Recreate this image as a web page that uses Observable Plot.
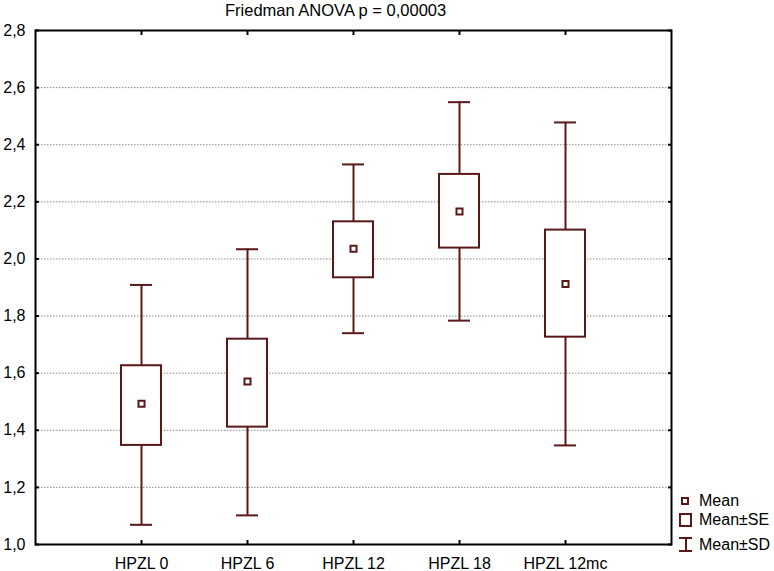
<!DOCTYPE html>
<html><head><meta charset="utf-8">
<script src="https://cdn.jsdelivr.net/npm/d3@7"></script>
<script src="https://cdn.jsdelivr.net/npm/@observablehq/plot@0.6"></script>
<style>
body{margin:0;background:#fff;font-family:"Liberation Sans",Arial,sans-serif;}
#wrap{position:relative;width:774px;height:571px;overflow:hidden;}
#title{position:absolute;left:225px;top:0px;font-size:16.5px;line-height:20px;color:#000;white-space:nowrap;}
.lg{position:absolute;font-size:16px;line-height:18px;color:#000;white-space:nowrap;}
.sym{position:absolute;box-sizing:border-box;}
</style></head>
<body><div id="wrap"><div id="title"></div></div>
<script>
const titleText = "Friedman ANOVA p = 0,00003";
const categories = ["HPZL 0", "HPZL 6", "HPZL 12", "HPZL 18", "HPZL 12mc"];
const means  = [1.493, 1.571, 2.036, 2.166, 1.912];
const seLow  = [1.347, 1.411, 1.934, 2.038, 1.726];
const seHigh = [1.626, 1.719, 2.130, 2.296, 2.101];
const sdLow  = [1.069, 1.102, 1.740, 1.784, 1.347];
const sdHigh = [1.909, 2.034, 2.331, 2.549, 2.478];
const yTicks = [1.0, 1.2, 1.4, 1.6, 1.8, 2.0, 2.2, 2.4, 2.6, 2.8];
const legendLabels = ["Mean", "Mean±SE", "Mean±SD"];

const color = "#5b1818";
const data = categories.map((c, i) => ({cat: c, mean: means[i], seLow: seLow[i], seHigh: seHigh[i], sdLow: sdLow[i], sdHigh: sdHigh[i]}));
const fmt = d => d3.format(".1f")(d).replace(".", ",");
const blank = () => "";

const chart = Plot.plot({
  width: 774, height: 571,
  marginTop: 30, marginBottom: 27, marginLeft: 35, marginRight: 103,
  style: {fontFamily: "'Liberation Sans', Arial, sans-serif", fontSize: "16px", color: "#000", background: "#fff"},
  x: {type: "band", domain: categories, paddingInner: 0.623, paddingOuter: 0.8113, align: 0.5, label: null},
  y: {domain: [1, 2.8], label: null},
  marks: [
    Plot.gridY(yTicks.slice(1, -1), {stroke: "#8c8c8c", strokeOpacity: 1, strokeDasharray: "1.5,1.5"}),
    Plot.ruleX(data, {x: "cat", y1: "sdLow", y2: "sdHigh", stroke: color, strokeWidth: 2}),
    Plot.tickY(data, {x: "cat", y: "sdLow", stroke: color, strokeWidth: 2, insetLeft: 9, insetRight: 9}),
    Plot.tickY(data, {x: "cat", y: "sdHigh", stroke: color, strokeWidth: 2, insetLeft: 9, insetRight: 9}),
    Plot.barY(data, {x: "cat", y1: "seLow", y2: "seHigh", fill: "#fff", stroke: color, strokeWidth: 2}),
    Plot.dot(data, {x: "cat", y: "mean", symbol: "square", r: 3.4, fill: "#fff", stroke: color, strokeWidth: 2}),
    Plot.frame({stroke: "#000", strokeWidth: 2}),
    Plot.axisY(yTicks, {anchor: "left", tickSize: 0, tickPadding: 10, tickFormat: fmt, fontSize: 16, label: null}),
    Plot.axisY(yTicks, {anchor: "left", tickSize: -4, tickFormat: blank, label: null, strokeWidth: 2}),
    Plot.axisY(yTicks, {anchor: "right", tickSize: -4, tickFormat: blank, label: null, strokeWidth: 2}),
    Plot.axisX({anchor: "bottom", tickSize: 0, tickPadding: 13, fontSize: 16, label: null}),
    Plot.axisX({anchor: "bottom", tickSize: -4, tickFormat: blank, label: null, strokeWidth: 2}),
    Plot.axisX({anchor: "top", tickSize: -4, tickFormat: blank, label: null, strokeWidth: 2})
  ]
});
const wrap = document.getElementById("wrap");
wrap.insertBefore(chart, wrap.firstChild);
document.getElementById("title").textContent = titleText;

// legend (HTML overlay)
function add(cls, css, text) {
  const el = document.createElement("div");
  el.className = cls;
  Object.assign(el.style, css);
  if (text) el.textContent = text;
  wrap.appendChild(el);
  return el;
}
const rowsY = [501, 520, 545];
add("sym", {left: "681px", top: "497px", width: "8px", height: "8px", border: `2px solid ${color}`, background: "#fff"});
add("sym", {left: "679px", top: "513px", width: "13px", height: "14px", border: `2px solid ${color}`, background: "#fff"});
add("sym", {left: "679px", top: "537px", width: "13px", height: "2px", background: color});
add("sym", {left: "684.5px", top: "537px", width: "2px", height: "15px", background: color});
add("sym", {left: "679px", top: "550px", width: "13px", height: "2px", background: color});
legendLabels.forEach((t, i) => add("lg", {left: "699px", top: (rowsY[i] - 9) + "px"}, t));
</script>
</body></html>
